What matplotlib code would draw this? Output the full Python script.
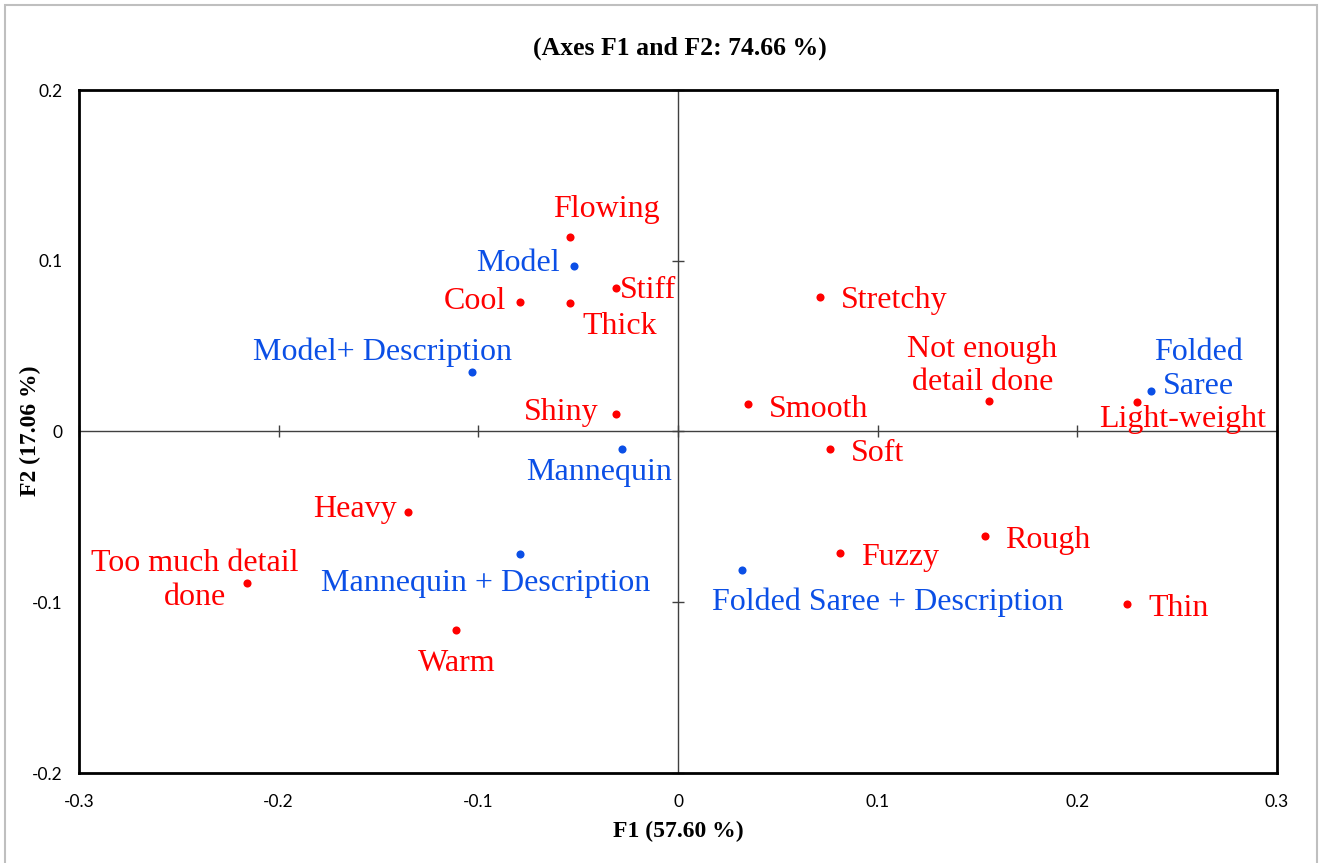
import matplotlib.pyplot as plt
from matplotlib.patches import Rectangle

# attributes (red)
attr_names = ["Flowing", "Stiff", "Cool", "Thick", "Shiny", "Heavy",
              "Too much detail\ndone", "Warm", "Stretchy", "Smooth",
              "Not enough\ndetail done", "Light-weight", "Soft", "Rough",
              "Fuzzy", "Thin"]
attr_f1 = [-0.054, -0.031, -0.079, -0.054, -0.031, -0.135,
           -0.216, -0.111, 0.071, 0.035, 0.156, 0.230, 0.076, 0.154,
           0.081, 0.225]
attr_f2 = [0.114, 0.084, 0.076, 0.075, 0.010, -0.047,
           -0.089, -0.116, 0.079, 0.016, 0.018, 0.017, -0.010, -0.061,
           -0.071, -0.101]

# stimuli (blue)
stim_names = ["Model", "Model+ Description", "Mannequin",
              "Mannequin + Description", "Folded\nSaree",
              "Folded Saree + Description"]
stim_f1 = [-0.052, -0.103, -0.028, -0.079, 0.237, 0.032]
stim_f2 = [0.097, 0.035, -0.010, -0.072, 0.024, -0.081]

xticks = [-0.3, -0.2, -0.1, 0, 0.1, 0.2, 0.3]
yticks = [-0.2, -0.1, 0, 0.1, 0.2]

# label placement in pixels: (dx, dy, ha)
offsets = {
    "Flowing": (36, 27, "center"), "Stiff": (4, -2, "left"),
    "Cool": (-14, 0, "right"), "Thick": (50, -23, "center"),
    "Shiny": (-18, 2, "right"), "Heavy": (-12, 2, "right"),
    "Too much detail\ndone": (-52, 3, "center"), "Warm": (0, -34, "center"),
    "Stretchy": (21, -4, "left"), "Smooth": (21, -5, "left"),
    "Not enough\ndetail done": (-7, 35, "center"),
    "Light-weight": (45, -17, "center"), "Soft": (21, -5, "left"),
    "Rough": (20, -5, "left"), "Fuzzy": (21, -5, "left"),
    "Thin": (21, -5, "left"),
    "Model": (-14, 2, "right"), "Model+ Description": (-90, 19, "center"),
    "Mannequin": (-23, -24, "center"),
    "Mannequin + Description": (-35, -29, "center"),
    "Folded\nSaree": (47, 21, "center"),
    "Folded Saree + Description": (146, -32, "center"),
}

red = "#FF0000"
blue = "#0B4FE6"
serif = "Liberation Serif"

fig = plt.figure(figsize=(13.21, 8.63), dpi=100)
pos = [79 / 1321, 1 - 773 / 863, (1277 - 79) / 1321, (773 - 90) / 863]

ax = fig.add_axes(pos)
ax.set_xlim(-0.3, 0.3)
ax.set_ylim(-0.2, 0.2)
for s in ["top", "right"]:
    ax.spines[s].set_visible(False)
ax.spines["left"].set_position(("data", 0))
ax.spines["bottom"].set_position(("data", 0))
for s in ["left", "bottom"]:
    ax.spines[s].set_color("#404040")
    ax.spines[s].set_linewidth(1)
ax.set_xticks(xticks)
ax.set_yticks(yticks)
ax.tick_params(direction="inout", length=9, width=1, color="#404040",
               labelleft=False, labelbottom=False)

# outer frame with tick labels
ax2 = fig.add_axes(pos, sharex=ax, sharey=ax)
ax2.patch.set_visible(False)
for s in ax2.spines.values():
    s.set_linewidth(2)
    s.set_color("black")
ax2.tick_params(length=0, labelsize=12.5, pad=15)
ax2.tick_params(axis="y", pad=12)
for lab in ax2.get_xticklabels() + ax2.get_yticklabels():
    lab.set_fontfamily("Lato")
fmt = plt.FuncFormatter(lambda v, p: "0" if abs(v) < 1e-9 else f"{v:.1f}")
ax2.xaxis.set_major_formatter(fmt)
ax2.yaxis.set_major_formatter(fmt)

ax.scatter(attr_f1, attr_f2, s=34, color=red, zorder=3, linewidths=0)
ax.scatter(stim_f1, stim_f2, s=34, color=blue, zorder=3, linewidths=0)

def put_labels(names, xs, ys, color):
    for n, x, y in zip(names, xs, ys):
        dx, dy, ha = offsets[n]
        ax.annotate(n, (x, y), xytext=(dx, dy), textcoords="offset pixels",
                    ha=ha, va="center", fontsize=23, color=color,
                    family=serif, multialignment="center", linespacing=1.2)

put_labels(attr_names, attr_f1, attr_f2, red)
put_labels(stim_names, stim_f1, stim_f2, blue)

fig.text(680 / 1321, 1 - 48 / 863, "(Axes F1 and F2: 74.66 %)", ha="center",
         va="center", fontsize=18.5, fontweight="bold", family=serif)
fig.text(678 / 1321, 1 - 831 / 863, "F1 (57.60 %)", ha="center",
         va="center", fontsize=17, fontweight="bold", family=serif)
fig.text(30 / 1321, 1 - 431 / 863, "F2 (17.06 %)", ha="center",
         va="center", fontsize=17, fontweight="bold", family=serif,
         rotation=90)

fig.add_artist(Rectangle((5 / 1321, -0.01), 1312 / 1321, 1 - 5 / 863 + 0.01,
                         transform=fig.transFigure, fill=False,
                         edgecolor="#BFBFBF", linewidth=1.5))

fig.savefig("out.png", dpi=100)
